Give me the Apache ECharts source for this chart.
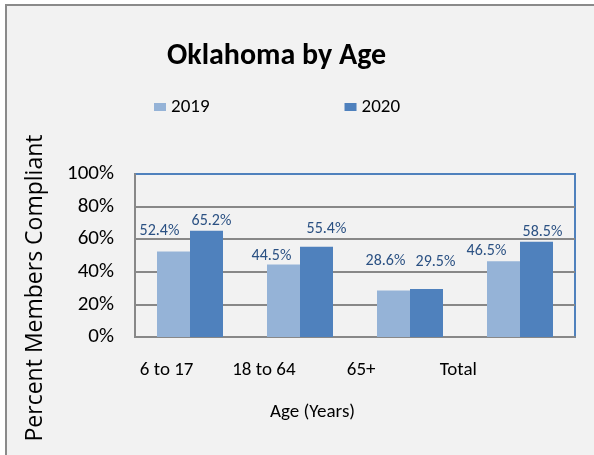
<!DOCTYPE html>
<html>
<head>
<meta charset="utf-8">
<script src="https://cdn.jsdelivr.net/npm/echarts@6/dist/echarts.min.js"></script>
<style>
  html, body { margin: 0; padding: 0; background: #ffffff; }
  #main { width: 594px; height: 455px; }
</style>
</head>
<body>
<div id="main"></div>
<script>
const categories = ['6 to 17', '18 to 64', '65+', 'Total'];
const seriesNames = ['2019', '2020'];
const values2019 = [52.4, 44.5, 28.6, 46.5];
const values2020 = [65.2, 55.4, 29.5, 58.5];
const yTicks = [0, 20, 40, 60, 80, 100];

// label placement tweaks (pixels), to mimic the reference's label positions
const labelShift2019 = [[-14, 21], [-12, 8], [-8, 29], [-17, 10]];
const labelShift2020 = [[5, 10], [10, 18], [9, 27], [6, 10]];

const FONT = 'Carlito, "Liberation Sans", Arial, sans-serif';

function buildData(vals, shifts) {
  return vals.map((v, i) => ({
    value: v,
    label: { offset: [shifts[i][0], -shifts[i][1]] }
  }));
}

const chart = echarts.init(document.getElementById('main'), null, { renderer: 'canvas' });
chart.setOption({
  backgroundColor: 'transparent',
  animation: false,
  graphic: [
    { type: 'rect', z: -10, shape: { x: 6, y: 5, width: 620, height: 480 },
      style: { fill: '#f2f2f2', stroke: '#8a8a8a', lineWidth: 2 } },
    { type: 'text', x: 35, y: 288, rotation: Math.PI / 2,
      style: { text: 'Percent Members Compliant', fill: '#000', font: '23px "Open Sans", "DejaVu Sans", sans-serif',
        align: 'center', verticalAlign: 'middle' } }
  ],
  title: {
    text: 'Oklahoma by Age',
    left: 162, top: 36,
    textStyle: { fontFamily: FONT, fontSize: 30, fontWeight: 'bold', color: '#000' }
  },
  legend: {
    data: seriesNames,
    left: 154, top: 97, padding: 0,
    itemWidth: 12, itemHeight: 8, itemGap: 135,
    icon: 'rect',
    textStyle: { fontFamily: FONT, fontSize: 19, lineHeight: 20, color: '#000' }
  },
  grid: [
    { left: 135, right: 19, top: 174, bottom: 118, show: true, borderColor: '#4f81bd', borderWidth: 2, backgroundColor: 'transparent' },
    { left: 118, right: 87, top: 174, bottom: 118, show: false }
  ],
  xAxis: [
    { type: 'category', data: categories, gridIndex: 0,
      axisLine: { show: true, lineStyle: { color: '#888', width: 2 } },
      axisTick: { show: false }, axisLabel: { show: false } },
    { type: 'category', data: categories, gridIndex: 1,
      axisLine: { show: false }, axisTick: { show: false },
      axisLabel: { show: true, margin: 24, fontFamily: FONT, fontSize: 19, color: '#000' },
      name: 'Age (Years)', nameLocation: 'middle', nameGap: 66,
      nameTextStyle: { fontFamily: FONT, fontSize: 19, color: '#000' } }
  ],
  yAxis: [
    { type: 'value', gridIndex: 0, min: yTicks[0], max: yTicks[yTicks.length - 1], interval: 20,
      axisLine: { show: true, lineStyle: { color: '#888', width: 2 } },
      axisTick: { show: false },
      axisLabel: { formatter: '{value}%', margin: 21, fontFamily: FONT, fontSize: 21, color: '#000' },
      splitLine: { show: true, lineStyle: { color: ['#888', '#888', '#888', '#888', '#888', '#4f81bd'], width: 2 } } },
    { type: 'value', gridIndex: 1, min: 0, max: 100, show: false }
  ],
  series: [
    { name: seriesNames[0], type: 'bar', xAxisIndex: 0, yAxisIndex: 0,
      data: buildData(values2019, labelShift2019),
      barWidth: 33, barGap: '0%',
      itemStyle: { color: '#95b3d7' },
      label: { show: true, position: 'top', distance: 0, verticalAlign: 'middle',
        formatter: p => p.value.toFixed(1) + '%',
        fontFamily: FONT, fontSize: 16, color: '#2b5183' } },
    { name: seriesNames[1], type: 'bar', xAxisIndex: 0, yAxisIndex: 0,
      data: buildData(values2020, labelShift2020),
      barWidth: 33, barGap: '0%',
      itemStyle: { color: '#4f81bd' },
      label: { show: true, position: 'top', distance: 0, verticalAlign: 'middle',
        formatter: p => p.value.toFixed(1) + '%',
        fontFamily: FONT, fontSize: 16, color: '#2b5183' } }
  ]
});
</script>
</body>
</html>
